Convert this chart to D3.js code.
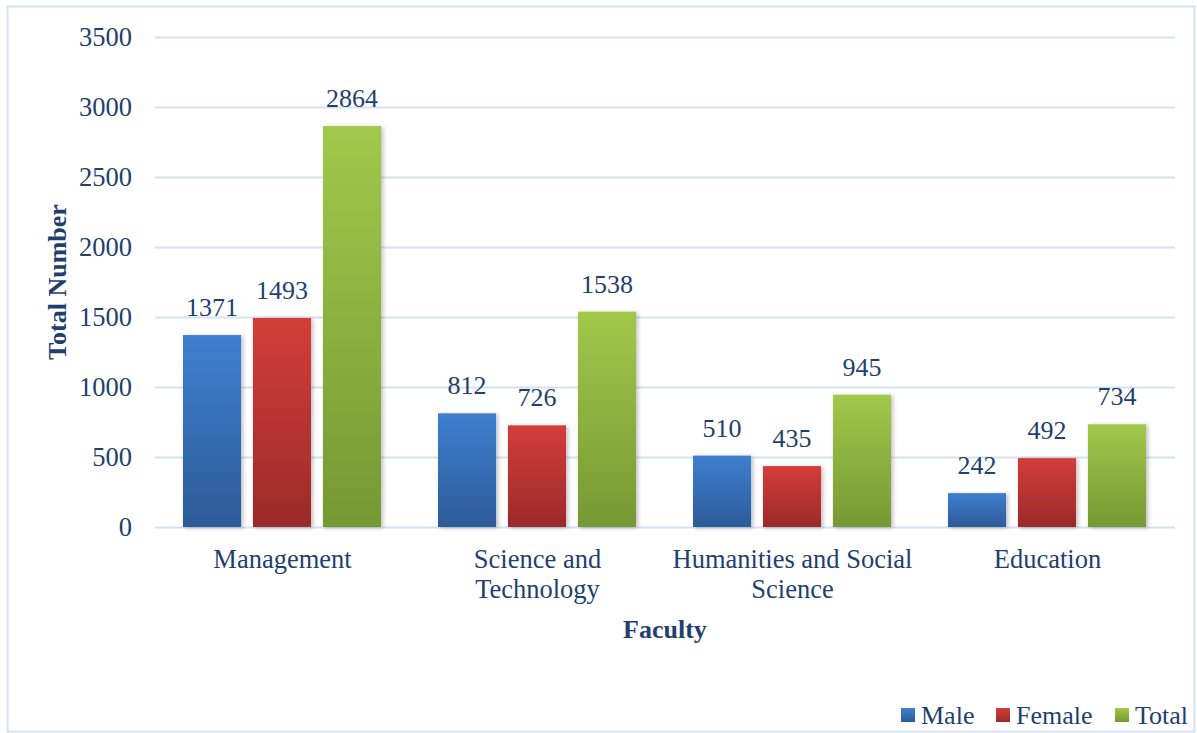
<!DOCTYPE html>
<html>
<head>
<meta charset="utf-8">
<script src="https://cdn.jsdelivr.net/npm/d3@7"></script>
<style>
  body { margin: 0; background: #fff; }
</style>
</head>
<body>
<svg id="chart" width="1197" height="733"></svg>
<script>
const faculties = ['Management', 'Science and Technology', 'Humanities and Social Science', 'Education']
const facultyLines = [['Management'], ['Science and', 'Technology'], ['Humanities and Social', 'Science'], ['Education']]
const series = ['Male', 'Female', 'Total']
const male = [1371, 812, 510, 242]
const female = [1493, 726, 435, 492]
const total = [2864, 1538, 945, 734]
const yTicks = [0, 500, 1000, 1500, 2000, 2500, 3000, 3500]

const serif = 'Liberation Serif'
const ink = '#1f3f6e'

const colors = {
  Male: ['#3f7fd0', '#2c5b98'],
  Female: ['#d33d3a', '#9b2a29'],
  Total: ['#a2c84b', '#769834']
}

const svg = d3.select('#chart')
const margin = { left: 155, right: 22, top: 37, bottom: 206 }
const W = 1197, H = 733
const innerW = W - margin.left - margin.right
const innerH = H - margin.top - margin.bottom

// outer chart border
svg.append('rect')
  .attr('x', 7.5).attr('y', 6.5)
  .attr('width', W - 10).attr('height', H - 8)
  .attr('fill', 'none').attr('stroke', '#d5e2f2').attr('stroke-width', 2)

const defs = svg.append('defs')
series.forEach(s => {
  const g = defs.append('linearGradient').attr('id', 'grad-' + s)
    .attr('x1', 0).attr('y1', 0).attr('x2', 0).attr('y2', 1)
  g.append('stop').attr('offset', '0%').attr('stop-color', colors[s][0])
  g.append('stop').attr('offset', '100%').attr('stop-color', colors[s][1])
})
const f = defs.append('filter').attr('id', 'shadow')
  .attr('x', '-20%').attr('y', '-5%').attr('width', '150%').attr('height', '115%')
f.append('feDropShadow').attr('dx', 2).attr('dy', 1).attr('stdDeviation', 2)
  .attr('flood-color', '#000').attr('flood-opacity', 0.25)

const g = svg.append('g').attr('transform', `translate(${margin.left},${margin.top})`)

const y = d3.scaleLinear().domain([0, 3500]).range([innerH, 0])
const x0 = d3.scaleBand().domain(faculties).range([0, innerW]).paddingInner(0).paddingOuter(0)
const x1 = d3.scaleBand().domain(series).range([28, x0.bandwidth() - 29]).paddingInner(0.17).paddingOuter(0)

// gridlines
g.append('g').selectAll('line').data(yTicks).join('line')
  .attr('x1', 0).attr('x2', innerW)
  .attr('y1', d => y(d) + 0.5).attr('y2', d => y(d) + 0.5)
  .attr('stroke', '#d5e2f2').attr('stroke-width', 2)

// y axis labels
const yAxis = g.append('g')
  .call(d3.axisLeft(y).tickValues(yTicks).tickFormat(d3.format('d')).tickSize(0).tickPadding(23))
yAxis.select('.domain').remove()
yAxis.selectAll('text')
  .style('font-family', serif).style('font-size', '26.5px').attr('fill', ink)

const rows = faculties.map((f, i) => ({ f, vals: { Male: male[i], Female: female[i], Total: total[i] } }))

const groups = g.selectAll('.grp').data(rows).join('g')
  .attr('transform', d => `translate(${x0(d.f)},0)`)

groups.selectAll('rect').data(d => series.map(s => ({ s, v: d.vals[s] }))).join('rect')
  .attr('x', d => x1(d.s)).attr('width', x1.bandwidth())
  .attr('y', d => y(d.v)).attr('height', d => innerH - y(d.v))
  .attr('fill', d => `url(#grad-${d.s})`)
  .attr('filter', 'url(#shadow)')

groups.selectAll('text.val').data(d => series.map(s => ({ s, v: d.vals[s] }))).join('text')
  .attr('class', 'val')
  .attr('x', d => x1(d.s) + x1.bandwidth() / 2)
  .attr('y', d => y(d.v) - 19)
  .attr('text-anchor', 'middle').attr('fill', ink)
  .style('font-family', serif).style('font-size', '26px')
  .text(d => d.v)

// category labels
g.selectAll('.cat').data(faculties).join('text')
  .attr('class', 'cat')
  .attr('text-anchor', 'middle').attr('fill', ink)
  .style('font-family', serif).style('font-size', '26.5px')
  .attr('transform', d => `translate(${x0(d) + x0.bandwidth() / 2},${innerH + 41})`)
  .each(function (d, i) {
    facultyLines[i].forEach((ln, j) => {
      d3.select(this).append('tspan').attr('x', 0).attr('dy', j === 0 ? 0 : 30).text(ln)
    })
  })

// axis titles
svg.append('text').attr('x', margin.left + innerW / 2).attr('y', 638)
  .attr('text-anchor', 'middle').attr('fill', ink)
  .style('font-family', serif).style('font-size', '26px').style('font-weight', 'bold')
  .text('Faculty')
svg.append('text').attr('transform', `translate(66,${margin.top + innerH / 2}) rotate(-90)`)
  .attr('text-anchor', 'middle').attr('fill', ink)
  .style('font-family', serif).style('font-size', '26px').style('font-weight', 'bold')
  .text('Total Number')

// legend
const legendX = [901, 996, 1115]
const lg = svg.append('g').attr('transform', 'translate(0,715)')
series.forEach((s, i) => {
  lg.append('rect').attr('x', legendX[i]).attr('y', -7).attr('width', 14).attr('height', 14)
    .attr('fill', `url(#grad-${s})`)
  lg.append('text').attr('x', legendX[i] + 20).attr('y', 9).attr('fill', ink)
    .style('font-family', serif).style('font-size', '26px')
    .text(s)
})
</script>
</body>
</html>
